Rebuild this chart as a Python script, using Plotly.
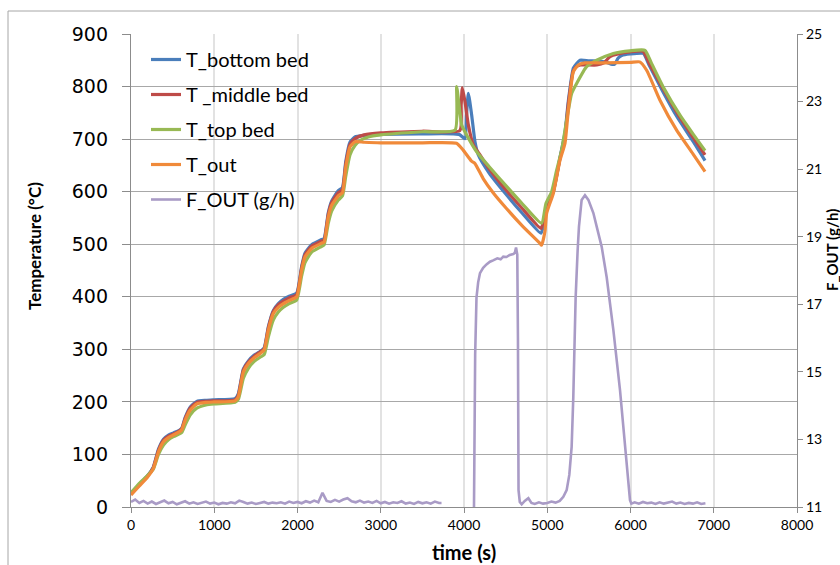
import plotly.graph_objects as go

# ---------------- data (time in s, temperature in °C, flow in g/h) ----------------
bottom_bed = [(0,25),(100,43),(200,60),(268,76),(330,110),(390,129),(450,137),(510,141),(580,146),(610,150),
    (650,170),(710,190),(790,201),(900,203),(1000,204),(1250,206),(1290,216),(1350,263),(1410,278),(1480,289),
    (1550,296),(1600,303),(1650,343),(1710,374),(1770,387),(1830,395),(1900,401),(1990,407),(2050,458),(2090,483),
    (2170,499),(2290,509),(2320,511),(2370,560),(2410,582),(2490,602),(2540,608),(2580,658),(2630,694),(2690,704),
    (2800,707),(3000,709),(3500,710),(3940,709),(4012,701),(4030,745),(4052,787),(4092,746),(4132,695),(4172,670),
    (4300,636),(4500,596),(4700,559),(4925,521),(4960,540),(5000,572),(5073,600),(5153,665),(5213,712),(5253,772),
    (5313,835),(5353,844),(5393,850),(5500,849),(5650,848),(5714,846),(5780,842),(5813,843),(5850,854),(5894,859),
    (5994,862),(6154,863),(6220,842),(6380,793),(6560,742),(6750,696),(6895,659)]

middle_bed = [(0,24),(100,42),(200,59),(268,75),(330,108),(390,127),(450,135),(510,139),(580,145),(610,149),
    (650,168),(710,188),(790,199),(900,201),(1000,202),(1250,204),(1290,213),(1350,261),(1410,276),(1480,287),
    (1550,295),(1600,301),(1650,341),(1710,372),(1770,385),(1830,392),(1900,398),(1990,404),(2050,455),(2090,480),
    (2170,496),(2290,506),(2320,508),(2370,557),(2410,579),(2490,598),(2540,604),(2580,653),(2630,690),(2690,701),
    (2800,708),(3000,712),(3500,715),(3950,716),(3966,765),(3980,798),(4012,771),(4052,727),(4112,689),(4200,668),
    (4300,644),(4500,604),(4700,568),(4925,530),(4960,548),(5000,576),(5073,600),(5153,663),(5213,707),(5253,767),
    (5313,830),(5353,838),(5400,841),(5594,841),(5680,845),(5754,857),(5850,862),(5994,866),(6150,867),(6220,846),
    (6380,799),(6560,750),(6750,704),(6895,670)]

top_bed = [(0,27),(100,45),(200,60),(268,72),(330,100),(390,118),(450,128),(510,134),(580,139),(610,142),
    (650,156),(710,175),(790,188),(900,194),(1000,196),(1250,199),(1290,205),(1350,245),(1410,264),(1480,277),
    (1550,285),(1600,290),(1650,324),(1710,356),(1770,371),(1830,380),(1900,387),(1990,394),(2050,440),(2090,465),
    (2170,485),(2290,496),(2320,499),(2370,540),(2410,563),(2490,584),(2540,592),(2580,630),(2630,670),(2690,688),
    (2750,697),(2850,704),(3000,708),(3500,714),(3892,717),(3912,800),(3944,760),(3972,727),(4032,708),(4152,676),
    (4300,648),(4500,612),(4700,577),(4932,540),(4985,578),(5053,600),(5113,641),(5173,679),(5233,736),(5293,787),
    (5353,806),(5473,838),(5594,850),(5794,863),(5994,868),(6174,869),(6250,845),(6400,797),(6600,744),(6750,710),
    (6895,678)]

t_out = [(0,23),(100,40),(200,57),(268,73),(330,105),(390,124),(450,132),(510,137),(580,143),(610,147),
    (650,165),(710,184),(790,196),(900,199),(1000,200),(1250,202),(1290,210),(1350,257),(1410,273),(1480,284),
    (1550,292),(1600,299),(1650,337),(1710,368),(1770,380),(1830,387),(1900,393),(1990,400),(2050,451),(2090,476),
    (2170,492),(2290,502),(2320,504),(2370,552),(2410,574),(2490,592),(2540,598),(2580,647),(2630,685),(2690,695),
    (2800,694),(3000,693),(3500,693),(3910,692),(3990,679),(4090,658),(4130,654),(4230,625),(4350,598),(4510,568),
    (4700,535),(4910,502),(4932,498),(4972,524),(4993,559),(5073,597),(5153,660),(5213,692),(5253,755),(5313,828),
    (5373,841),(5450,845),(5700,845),(6000,846),(6110,847),(6194,831),(6354,774),(6554,717),(6750,672),(6895,638)]

# F_OUT (g/h): logged baseline every 50 s, then the two production episodes
f_time_1 = list(range(0, 3701, 50)) + [3730]
f_vals_1 = [11.15,11.22,11.12,11.18,11.10,11.16,11.09,11.14,11.19,11.11,
            11.15,11.08,11.13,11.17,11.10,11.14,11.09,11.12,11.16,11.10,
            11.13,11.08,11.12,11.10,11.14,11.11,11.19,11.15,11.10,11.13,
            11.09,11.12,11.15,11.10,11.13,11.11,11.14,11.10,11.16,11.12,
            11.15,11.11,11.17,11.13,11.19,11.14,11.42,11.18,11.15,11.21,
            11.16,11.22,11.26,11.17,11.14,11.19,11.13,11.16,11.12,11.18,
            11.11,11.15,11.10,11.14,11.12,11.17,11.10,11.13,11.09,11.15,
            11.11,11.14,11.10,11.16,11.12,11.12]
f_episode = [(4120,11.0),(4126,13.0),(4134,15.5),(4150,17.2),(4170,17.65),(4192,17.92),(4230,18.08),(4270,18.18),
    (4312,18.26),(4350,18.30),(4400,18.36),(4440,18.33),(4472,18.41),(4510,18.40),(4550,18.46),(4592,18.49),
    (4610,18.52),(4625,18.68),(4640,18.47),(4648,16.0),(4655,11.5),(4670,11.15),(4693,11.08),(4730,11.18),
    (4773,11.26),(4810,11.12),(4850,11.09),(4900,11.14),(4950,11.10),(5000,11.12),(5050,11.16),(5100,11.13),
    (5150,11.18),(5193,11.30),(5233,11.50),(5265,11.95),(5293,12.78),(5313,14.26),(5341,17.2),(5365,18.6),
    (5381,19.3),(5413,20.09),(5453,20.23),(5494,20.09),(5554,19.7),(5594,19.3),(5654,18.7),(5714,17.8),
    (5794,16.24),(5874,14.46),(5934,12.78),(5970,11.8),(5994,11.2),(6010,11.1)]
f_time_3 = list(range(6050, 6901, 50))
f_vals_3 = [11.14,11.10,11.15,11.11,11.13,11.09,11.14,11.10,11.12,11.16,
            11.10,11.13,11.09,11.12,11.10,11.14,11.09,11.11]

x_ticks = [0, 1000, 2000, 3000, 4000, 5000, 6000, 7000, 8000]
y_ticks = [0, 100, 200, 300, 400, 500, 600, 700, 800, 900]
y2_ticks = [11, 13, 15, 17, 19, 21, 23, 25]

# ---------------- figure ----------------
series = [
    ("T_bottom bed", bottom_bed, "#4A7EBB"),
    ("T _middle bed", middle_bed, "#BE4B48"),
    ("T_top bed", top_bed, "#98B954"),
    ("T_out", t_out, "#F08A3A"),
]

fig = go.Figure()
for i, (name, pts, col) in enumerate(series):
    fig.add_trace(go.Scatter(
        x=[p[0] for p in pts], y=[p[1] for p in pts], name=name, mode="lines",
        line=dict(color=col, width=3.2, shape="spline", smoothing=0.5), legendgroup=f"g{i}"))

f_x = f_time_1 + [3900] + [p[0] for p in f_episode] + f_time_3
f_y = f_vals_1 + [None] + [p[1] for p in f_episode] + f_vals_3
fig.add_trace(go.Scatter(x=f_x, y=f_y, name="F_OUT (g/h)", mode="lines", yaxis="y2",
                         line=dict(color="#A99BC6", width=2.6), legendgroup="g4"))

L, R, T, B = 131, 797, 34, 507
W, H = 840, 565

def px(xp):
    return (xp - L) / (R - L)

def py(yp):
    return (B - yp) / (B - T)

fig.update_layout(
    width=W, height=H,
    margin=dict(l=L, r=W - R, t=T, b=H - B, pad=0),
    paper_bgcolor="white", plot_bgcolor="white",
    font=dict(family="Lato", color="#000000"),
    showlegend=True,
    legend=dict(x=px(146), y=py(40), xanchor="left", yanchor="top",
                font=dict(family="Lato", size=20, color="#000000"),
                bgcolor="rgba(0,0,0,0)", tracegroupgap=6, traceorder="grouped"),
    xaxis=dict(range=[0, 8000], tickvals=x_ticks, ticktext=[str(v) for v in x_ticks],
               showgrid=True, gridcolor="#E2E2E2", gridwidth=1.5,
               showline=True, linecolor="#8C8C8C", linewidth=1.3,
               ticks="outside", ticklen=5, tickcolor="#8C8C8C",
               tickfont=dict(family="Lato", size=14, color="#000000"),
               zeroline=False),
    yaxis=dict(range=[0, 900], tickvals=y_ticks, ticktext=[str(v) for v in y_ticks],
               showgrid=True, gridcolor="#A8A8A8", gridwidth=1.4,
               showline=True, linecolor="#8C8C8C", linewidth=1.3,
               ticks="outside", ticklen=8, tickcolor="#8C8C8C",
               ticklabelstandoff=10,
               tickfont=dict(family="DejaVu Sans", size=19, color="#000000"),
               zeroline=False),
    yaxis2=dict(range=[11, 25], tickvals=y2_ticks, ticktext=[str(v) for v in y2_ticks],
                overlaying="y", side="right", showgrid=False,
                showline=True, linecolor="#8C8C8C", linewidth=1.3,
                ticks="outside", ticklen=5, tickcolor="#8C8C8C",
                tickfont=dict(family="Lato", size=14, color="#000000"),
                zeroline=False),
    annotations=[
        dict(text="<b>Temperature (°C)</b>", x=px(35), y=py(246), xref="paper", yref="paper",
             textangle=-90, showarrow=False, xanchor="center", yanchor="middle",
             font=dict(family="Lato", size=17, color="#000000")),
        dict(text="<b>time (s)</b>", x=px(464), y=py(552), xref="paper", yref="paper",
             showarrow=False, xanchor="center", yanchor="middle",
             font=dict(family="Lato", size=20, color="#000000")),
        dict(text="<b>F_OUT (g/h)</b>", x=px(832), y=py(250), xref="paper", yref="paper",
             textangle=-90, showarrow=False, xanchor="center", yanchor="middle",
             font=dict(family="Lato", size=15, color="#000000")),
    ],
    shapes=[
        dict(type="line", xref="paper", yref="paper", x0=px(8), x1=px(8), y0=py(11), y1=py(600),
             line=dict(color="#A6A6A6", width=1)),
        dict(type="line", xref="paper", yref="paper", x0=px(8), x1=px(900), y0=py(11), y1=py(11),
             line=dict(color="#A6A6A6", width=1)),
    ],
)

fig.write_html("out.html")
